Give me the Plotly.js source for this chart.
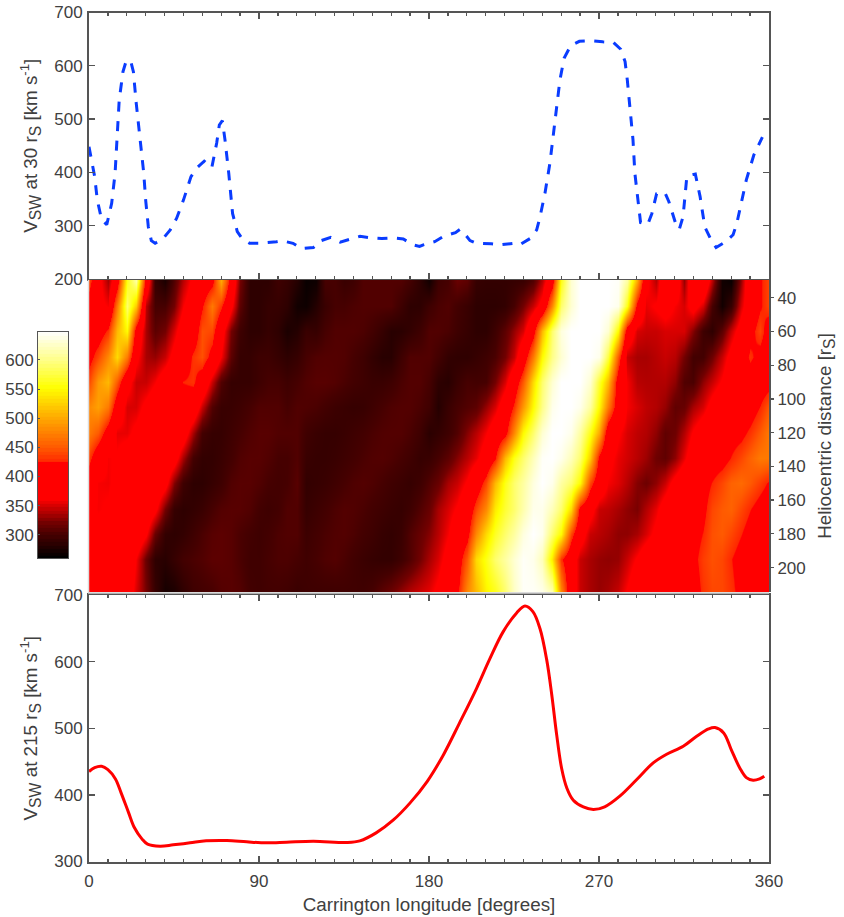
<!DOCTYPE html>
<html><head><meta charset="utf-8">
<script src="https://cdn.plot.ly/plotly-3.0.1.min.js"></script>
<style>html,body{margin:0;padding:0;background:#fff}</style>
</head><body><div id="chart" style="width:844px;height:917px"></div>
<script>
// Solar wind speed at 30 rS (dashed blue)
const lon30 = [0,3,4.4,6.7,9.4,12,13.8,15,16,18,19.6,22,23.5,25,27,29,30,31.4,33,35,39,43,46.4,50,54,57,61,65,67.6,69,70.6,72,74,76,78.5,81,85,90.5,99.3,102,108,112.6,118.8,123,128,133,138.5,143.5,150,155,161,166.4,171.7,175,177,183,187.6,194,196.4,198,201.7,205,213,217.6,224.6,228,234,237,238.8,241.4,244,245.8,247.6,249.3,251.5,255,259.6,266,272,277.6,281.5,283.8,285,286.8,288,289,290.8,292,295.8,298,300.5,302.8,305,307,310.5,312.5,314.5,316.5,318.5,321,323.5,326,329,332,337,341,343,345.5,348,352,353.6,356.5];
const v30 = [448,392,348,311,302,342,398,473,536,589,608,610,589,530,461,398,348,298,272,267,275,292,314,348,392,408,421,409,455,489,497,461,398,323,289,276,267,267,270,272,267,257,259,272,278,269,275,280,277,276,277,275,264,261,264,270,280,287,293,289,272,267,266,264,267,264,277,292,317,361,417,473,523,573,614,638,646,647,645,644,631,608,573,511,461,398,348,306,302,323,360,362,361,345,305,293,317,392,395,397,355,298,276,259,270,283,305,348,386,433,444,466];

// Solar wind speed at 215 rS (solid red)
const lon215 = [0,3,6.7,10,14,17,21,24,28,31,37.6,44.6,53.5,62,73,83.5,94,104.6,118.8,136.8,143.4,152,161,170,179,187.6,196,205.2,212,219.3,226.4,230.8,235,238.7,242.3,245,247.6,250.2,253,256.4,261.7,267,273,281,290,298.7,305.8,314.6,321.7,328,331.4,336,340,344.6,348,351.6,355,357.5];
const v215 = [435,441,443,438,424,403,373,351,334,326,323,325,328,331,331.5,329.5,328,329,330.5,328.5,331,343,362,388,420,460,507,560,603,645,673,683.5,675,650,603,550,490,440,410,392,382,378,382,398,423,448,461,473,488,499,501,493,468,440,426,422,424,428];

// Heat map: longitude columns and heliocentric distance rows
const heatLon = [0,5,10,15,20,25,30,35,40,45,50,55,60,65,70,75,80,85,90,95,100,105,110,115,120,125,130,135,140,145,150,155,160,165,170,175,180,185,190,195,200,205,210,215,220,225,230,235,240,245,250,255,260,265,270,275,280,285,290,295,300,305,310,315,320,325,330,335,340,345,350,355,360];
const heatR = [30,45,60,75,90,105,120,135,150,165,180,195,215];
const row30 = [440,375,335,400,560,610,400,290,275,305, 340,370,390,410,500,400,320,285,285,285, 295,290,280,265,268,300,300,292,295,305, 305,305,305,305,298,285,270,295,300,315, 310,290,288,288,288,290,292,305,340,400, 560,630,648,648,648,648,645,610,500,370, 340,400,395,330,400,405,340,270,265,330, 400,420,440];
const row45 = [400,370,360,470,590,520,340,300,300,320, 360,385,420,470,430,370,310,285,285,290, 290,285,270,268,280,292,300,300,303,305, 305,305,305,295,285,285,295,302,305,298, 292,285,285,285,288,300,320,345,375,480, 590,630,648,648,648,648,640,560,410,355, 365,375,360,350,375,350,300,270,290,350, 390,420,440];
const row60 = [400,400,430,510,550,400,335,310,320,350, 385,395,445,440,380,320,295,285,285,290, 285,275,280,292,290,300,305,305,305,303, 298,290,282,283,288,295,305,305,302,295, 290,285,285,295,310,330,350,405,510,590, 635,648,648,648,648,630,550,395,350,345, 345,350,350,350,325,295,285,310,345,380, 410,440,400];
const row75 = [410,440,480,530,470,370,335,330,345,375, 395,430,445,410,360,310,290,290,295,295, 290,285,290,300,305,306,306,305,300,295, 288,282,282,295,305,305,305,298,288,286, 286,290,295,302,320,345,395,470,550,600, 630,648,648,648,640,575,450,345,335,335, 340,345,340,320,298,298,318,345,375,400, 430,410,400];
const row90 = [440,490,510,450,375,345,345,360,385,400, 425,430,400,345,305,290,290,290,295,300, 300,295,300,305,308,308,306,302,298,295, 292,292,295,302,306,306,300,285,282,292, 300,298,300,320,350,395,450,530,590,630, 648,648,648,630,570,510,400,360,340,338, 338,338,328,305,302,328,345,365,390,400, 400,400,410];
const row105 = [480,495,470,390,350,350,370,385,395,400, 400,395,345,305,292,292,295,300,305,305, 305,300,305,304,302,298,294,292,290,291, 295,300,304,306,306,302,296,280,292,300, 305,310,330,350,385,430,490,550,600,640, 648,648,640,610,550,470,395,360,350,342, 338,330,312,315,335,350,375,395,400,400, 405,425,450];
const row120 = [470,450,400,355,355,370,385,400,400,400, 385,335,298,290,290,295,300,305,308,308, 305,305,305,296,292,290,290,292,295,298, 302,305,306,306,302,295,283,288,295,305, 325,340,360,385,410,480,550,590,630,648, 648,640,610,560,500,390,365,350,342,338, 328,312,318,338,365,385,400,405,410,415, 430,450,470];
const row135 = [435,390,360,365,380,395,400,400,395,380, 335,298,288,288,292,298,305,308,308,305, 300,300,305,292,290,290,292,295,298,302, 305,306,304,300,296,290,292,300,310,325, 340,355,380,420,510,560,590,620,645,648, 640,620,590,520,415,370,355,348,340,332, 318,312,328,355,385,400,405,410,425,440, 455,470,470];
const row150 = [395,360,358,370,385,395,395,395,375,325, 295,285,285,290,295,305,308,308,305,300, 298,300,308,288,290,292,296,300,304,306, 304,300,296,293,290,295,305,315,335,345, 365,395,440,510,560,590,610,635,648,640, 610,590,550,440,390,360,352,340,325,318, 328,345,375,395,400,410,425,440,455,460, 450,435,420];
const row165 = [370,360,365,380,390,395,395,370,320,290, 285,288,292,300,306,308,308,305,298,295, 298,305,305,290,294,298,303,306,305,302, 298,295,292,290,295,305,315,335,350,365, 390,440,480,540,570,590,615,640,640,620, 590,530,410,375,345,342,335,328,322,338, 355,380,400,400,405,415,440,450,455,440, 425,410,400];
const row180 = [375,370,380,390,395,395,365,315,288,285, 288,295,302,308,310,308,302,298,295,298, 303,305,305,294,298,302,305,306,303,298, 295,290,288,292,305,315,325,340,360,385, 410,480,530,565,590,610,635,648,640,590, 550,440,380,345,340,335,328,328,335,350, 370,395,400,405,410,425,445,450,440,425, 410,405,405];
const row195 = [385,385,395,395,395,360,315,285,282,290, 298,302,305,310,310,308,302,296,296,300, 303,303,300,296,300,304,306,302,297,293, 290,288,288,295,305,320,335,350,375,400, 450,530,560,590,610,630,645,640,620,540, 430,385,345,335,330,328,330,345,365,385, 400,402,405,405,415,435,445,440,425,410, 405,400,400];
const row215 = [395,400,400,400,385,350,320,290,272,275, 285,295,298,300,306,308,306,298,296,298, 298,296,292,295,295,295,295,296,296,296, 300,310,318,330,340,348,355,370,395,415, 480,510,545,560,590,625,645,645,640,620, 480,385,345,335,330,335,345,365,390,400, 400,402,404,405,405,430,440,440,430,415, 405,400,400];

// Colour scale and colour bar
const scaleValues = [260,270,285,300,320,335,350,362,423,425,450,500,552,600,648];
const scaleColors = ['#000000','#120000','#2e0000','#460000','#720000','#a80000','#d80000','#ff0000','#ff0000','#ff2800','#ff5a00','#ffa800','#ffff00','#ffff88','#ffffff'];
const barLevels = [260,266,272,278,284,290,296,302,308,314,320,326,332,338,344,350,356,362,368,374,380,386,392,398,404,410,416,422,428,434,440,446,452,458,464,470,476,482,488,494,500,506,512,518,524,530,536,542,548,554,560,566,572,578,584,590,596,602,608,614,620,626,632,638,644,648];

// Tick labels
const lonTicks = [0,90,180,270,360];
const speedTicksTop = [200,300,400,500,600,700];
const speedTicksBottom = [300,400,500,600,700];
const distTicks = [40,60,80,100,120,140,160,180,200];
const barTicks = [300,350,400,450,500,550,600];

const W = 844, H = 917;
const dx = [89/W, 769/W];
const dy = (t, b) => [1 - b/H, 1 - t/H];
const zmin = scaleValues[0], zmax = scaleValues[scaleValues.length-1];
const colorscale = scaleValues.map((v,i) => [(v-zmin)/(zmax-zmin), scaleColors[i]]);
const INK = '#404040', LINE = '#555555';
const tickFont = {family:'"Liberation Sans", Arial, sans-serif', size:17, color:INK};
const titleFont = {family:'"Liberation Sans", Arial, sans-serif', size:18.8, color:INK};
const sub = s => '<sub><span style="font-size:120%">' + s + '</span></sub>';

function lonAxis(extra){
  return Object.assign({
    domain:dx, range:[0,360], tickmode:'array', tickvals:lonTicks, ticks:'inside', ticklen:6, tickwidth:1.3,
    tickcolor:LINE, showline:true, linecolor:LINE, linewidth:2, mirror:'ticks', showgrid:false, zeroline:false,
    minor:{dtick:10, ticks:'inside', ticklen:3, tickwidth:1.3, tickcolor:LINE, showgrid:false},
    showticklabels:false, tickfont:tickFont
  }, extra);
}
function speedAxis(extra){
  return Object.assign({
    ticks:'inside', ticklen:6, tickwidth:1.3, tickcolor:LINE, showline:true, linecolor:LINE, linewidth:2, mirror:'ticks',
    showgrid:false, zeroline:false, tickfont:tickFont, tickmode:'array', ticklabelstandoff:1
  }, extra);
}

const traces = [
  {type:'scatter', mode:'lines', x:lon30, y:v30, xaxis:'x', yaxis:'y',
   line:{color:'#0a3cff', width:3, dash:'10px,9.5px'}, hoverinfo:'skip'},
  {type:'heatmap', x:heatLon, y:heatR,
   z:[row30,row45,row60,row75,row90,row105,row120,row135,row150,row165,row180,row195,row215],
   xaxis:'x2', yaxis:'y2', colorscale, zmin, zmax, zsmooth:'best', showscale:false, hoverinfo:'skip'},
  {type:'scatter', mode:'lines', x:lon215, y:v215, xaxis:'x3', yaxis:'y3',
   line:{color:'#ff0000', width:3, shape:'spline', smoothing:1}, hoverinfo:'skip'},
  {type:'heatmap', x:[0], y:barLevels, z:barLevels.map(v=>[v]), xaxis:'x4', yaxis:'y4',
   colorscale, zmin, zmax, showscale:false, hoverinfo:'skip'}
];

const layout = {
  width:W, height:H, margin:{l:0,r:0,t:0,b:0}, paper_bgcolor:'#fff', plot_bgcolor:'#fff', showlegend:false,
  font:{family:'"Liberation Sans", Arial, sans-serif', color:INK},
  xaxis: lonAxis({anchor:'y'}),
  yaxis: speedAxis({domain:dy(12.5,279), range:[200,700], tickvals:speedTicksTop, anchor:'x',
    title:{text:'V'+sub('SW')+' at 30 r'+sub('S')+' [km s<sup>-1</sup>]', font:titleFont, standoff:12}}),
  xaxis2:{domain:dx, range:[0,360], anchor:'y2', showticklabels:false, ticks:'', showgrid:false, zeroline:false, showline:false},
  yaxis2:{domain:dy(280,592), range:[214.5,29.5], side:'right', anchor:'x2', tickmode:'array', tickvals:distTicks,
    ticks:'outside', ticklen:3, tickwidth:1.3, tickcolor:LINE, showline:true, linecolor:LINE, linewidth:2,
    showgrid:false, zeroline:false, tickfont:tickFont,
    title:{text:'Heliocentric distance [r'+sub('S')+']', font:titleFont, standoff:13}},
  xaxis3: lonAxis({anchor:'y3', showticklabels:true, ticklabelstandoff:3,
    title:{text:'Carrington longitude [degrees]', font:titleFont, standoff:8}}),
  yaxis3: speedAxis({domain:dy(595,861.5), range:[300,700], tickvals:speedTicksBottom, anchor:'x3',
    title:{text:'V'+sub('SW')+' at 215 r'+sub('S')+' [km s<sup>-1</sup>]', font:titleFont, standoff:12}}),
  xaxis4:{domain:[38/W,68/W], range:[-0.5,0.5], anchor:'y4', showticklabels:false, ticks:'', showgrid:false, zeroline:false,
    showline:true, linecolor:LINE, linewidth:1, mirror:true},
  yaxis4:{domain:dy(332,558), range:[260,648], anchor:'x4', tickmode:'array', tickvals:barTicks, ticks:'inside', ticklen:2,
    tickwidth:1, tickcolor:LINE, showline:true, linecolor:LINE, linewidth:1, mirror:true, showgrid:false, zeroline:false, tickfont:tickFont},
  shapes:[
    {type:'line', xref:'paper', yref:'paper', x0:88.5/W, x1:88.5/W, y0:1-593/H, y1:1-280/H, line:{color:'#dddddd', width:1.5}},
    {type:'line', xref:'paper', yref:'paper', x0:88/W, x1:769/W, y0:1-593/H, y1:1-593/H, line:{color:'#cfcfcf', width:1.5}}
  ]
};
Plotly.newPlot('chart', traces, layout, {staticPlot:true, displayModeBar:false});
</script></body></html>
